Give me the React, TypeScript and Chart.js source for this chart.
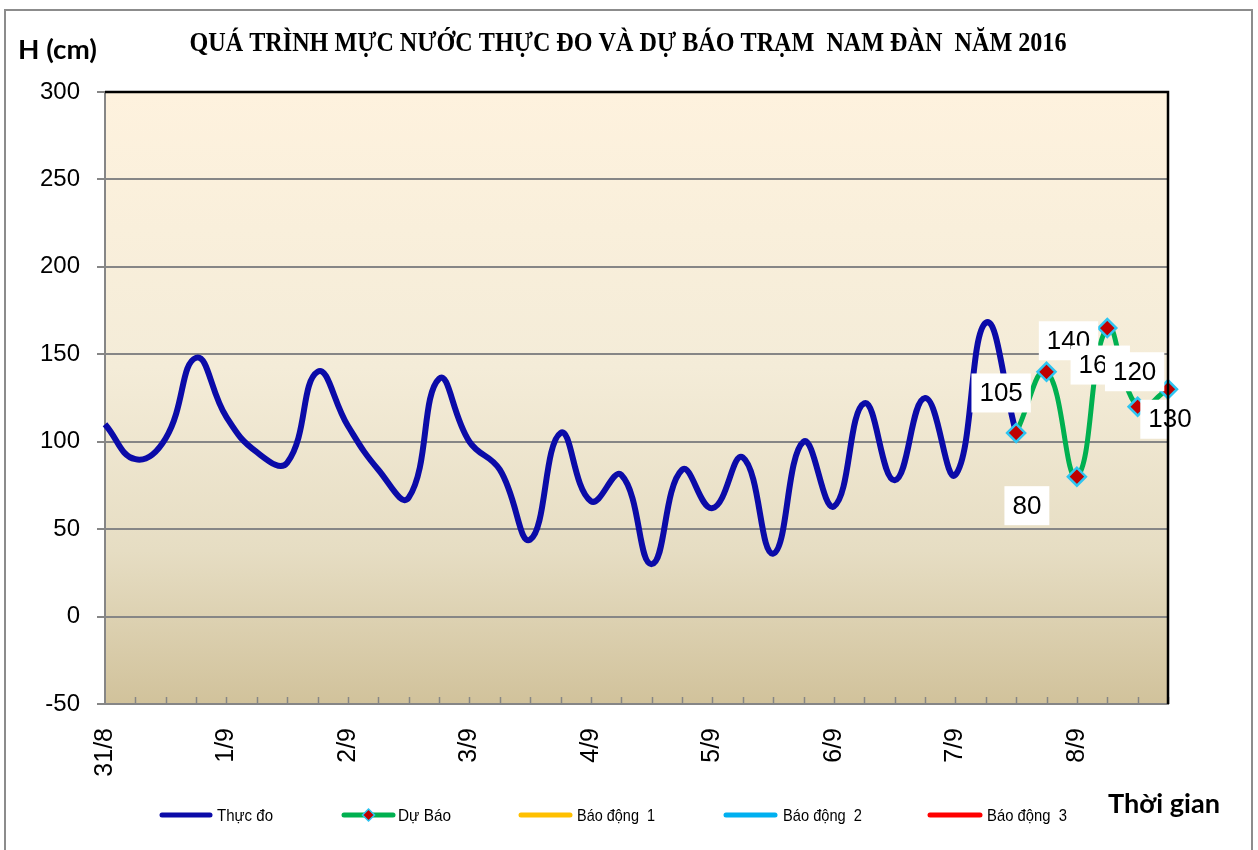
import React, { useEffect, useRef } from 'react';
import { Chart, registerables } from 'chart.js';

Chart.register(...registerables);

// ---------- data ----------
const dayLabels = ['31/8', '1/9', '2/9', '3/9', '4/9', '5/9', '6/9', '7/9', '8/9'];
const stepsPerDay = 4;
const pointCount = 36;
const categories: string[] = Array.from({ length: pointCount }, (_, i) =>
  i % stepsPerDay === 0 ? dayLabels[i / stepsPerDay] : ''
);

const observed: number[] = [
  110, 90, 102, 148, 114, 94, 88, 140, 109, 84, 68, 136, 100, 84, 44, 105,
  66, 81, 30, 84, 62, 91, 36, 100, 63, 122, 78, 125, 81, 168, 105,
];
const forecastStart = 30;
const forecast: number[] = [105, 140, 80, 165, 120, 130];
const alarm1: number[] = [];
const alarm2: number[] = [];
const alarm3: number[] = [];

const yTicks = { min: -50, max: 300, step: 50 };

const seriesNames = ['Thực đo', 'Dự Báo', 'Báo động  1', 'Báo động  2', 'Báo động  3'];
const titleText = 'QUÁ TRÌNH MỰC NƯỚC THỰC ĐO VÀ DỰ BÁO TRẠM  NAM ĐÀN  NĂM 2016';
const yTitle = 'H (cm)';
const xTitle = 'Thời gian';

// ---------- styles ----------
const colors = {
  observed: '#0B0BA8',
  forecast: '#00B050',
  alarm1: '#FFC000',
  alarm2: '#00B0F0',
  alarm3: '#FF0000',
  marker: '#C00000',
  markerBorder: '#2EC5F2',
  grid: '#868686',
};

// label box offsets (px) relative to each forecast point
const labelOffsets: [number, number][] = [
  [-15, -40],
  [22, -31],
  [-50, 29],
  [-7, 37],
  [-3, -35],
  [2, 30],
];

// legend item x positions (line start, line end, text start, text width)
const legendLayout: [number, number, number, number][] = [
  [160, 212, 217, 56],
  [342, 395, 398, 53],
  [519, 572, 577, 78],
  [724, 777, 783, 79],
  [928, 982, 987, 80],
];

function drawFit(
  ctx: CanvasRenderingContext2D,
  text: string,
  x: number,
  y: number,
  width: number,
  font: string,
  color: string,
  align: CanvasTextAlign = 'center'
) {
  ctx.save();
  ctx.font = font;
  const w = ctx.measureText(text).width;
  const s = width / w;
  ctx.translate(x, y);
  ctx.scale(s, 1);
  ctx.textAlign = align;
  ctx.textBaseline = 'middle';
  ctx.fillStyle = color;
  ctx.fillText(text, 0, 0);
  ctx.restore();
}

const decorPlugin = {
  id: 'decor',
  beforeDraw(chart: any) {
    const { ctx, chartArea: a } = chart;
    ctx.save();
    ctx.fillStyle = '#ffffff';
    ctx.fillRect(0, 0, chart.width, chart.height);
    const g = ctx.createLinearGradient(0, a.top, 0, a.bottom);
    g.addColorStop(0, '#FEF2DE');
    g.addColorStop(0.45, '#F4ECD8');
    g.addColorStop(0.75, '#E6DDC3');
    g.addColorStop(1, '#D1C29B');
    ctx.fillStyle = g;
    ctx.fillRect(a.left, a.top, a.right - a.left, a.bottom - a.top);
    ctx.restore();
  },
  afterDatasetsDraw(chart: any) {
    const { ctx } = chart;
    const meta = chart.getDatasetMeta(1);
    ctx.save();
    ctx.font = '26px "Liberation Sans", Arial, sans-serif';
    ctx.textAlign = 'center';
    ctx.textBaseline = 'middle';
    forecast.forEach((v, k) => {
      const el = meta.data[forecastStart + k];
      if (!el) return;
      const [dx, dy] = labelOffsets[k];
      const cx = el.x + dx;
      const cy = el.y + dy;
      const text = String(v);
      const tw = ctx.measureText(text).width;
      const bw = tw + 16;
      const bh = 39;
      ctx.fillStyle = '#ffffff';
      ctx.fillRect(cx - bw / 2, cy - bh / 2, bw, bh);
      ctx.fillStyle = '#000000';
      ctx.fillText(text, cx, cy + 1);
    });
    ctx.restore();
  },
  afterDraw(chart: any) {
    const { ctx, chartArea: a } = chart;
    const xs = chart.scales.x;
    ctx.save();
    // inner tick marks on x axis
    ctx.strokeStyle = colors.grid;
    ctx.lineWidth = 1.5;
    for (let i = 1; i < categories.length; i++) {
      const x = Math.round(xs.getPixelForValue(i)) + 0.5;
      ctx.beginPath();
      ctx.moveTo(x, a.bottom);
      ctx.lineTo(x, a.bottom - 7);
      ctx.stroke();
    }
    // top and right plot border
    ctx.strokeStyle = '#000000';
    ctx.lineWidth = 2.5;
    ctx.beginPath();
    ctx.moveTo(a.left, a.top);
    ctx.lineTo(a.right, a.top);
    ctx.lineTo(a.right, a.bottom);
    ctx.stroke();
    // outer chart border
    ctx.strokeStyle = '#8C8C8C';
    ctx.lineWidth = 2;
    ctx.strokeRect(5, 10, 1247, 845);
    ctx.restore();

    // titles
    drawFit(ctx, titleText, 628, 44, 877, 'bold 27px "Liberation Serif", "Times New Roman", serif', '#000');
    drawFit(ctx, yTitle, 18, 50, 79, 'bold 27px Lato, "Open Sans", sans-serif', '#000', 'left');
    drawFit(ctx, xTitle, 1108, 804, 112, 'bold 27px Lato, "Open Sans", sans-serif', '#000', 'left');

    // legend
    const ly = 815;
    chart.data.datasets.forEach((ds: any, i: number) => {
      const [x0, x1, tx, tw] = legendLayout[i];
      ctx.save();
      ctx.strokeStyle = ds.borderColor;
      ctx.lineWidth = 5;
      ctx.lineCap = 'round';
      ctx.beginPath();
      ctx.moveTo(x0 + 2, ly);
      ctx.lineTo(x1 - 2, ly);
      ctx.stroke();
      if (ds.pointStyle === 'rectRot') {
        const cx = (x0 + x1) / 2;
        const r = 6;
        ctx.beginPath();
        ctx.moveTo(cx, ly - r);
        ctx.lineTo(cx + r, ly);
        ctx.lineTo(cx, ly + r);
        ctx.lineTo(cx - r, ly);
        ctx.closePath();
        ctx.fillStyle = ds.pointBackgroundColor;
        ctx.fill();
        ctx.lineWidth = 1.5;
        ctx.lineCap = 'butt';
        ctx.strokeStyle = ds.pointBorderColor;
        ctx.stroke();
      }
      ctx.restore();
      drawFit(ctx, ds.label, tx, ly + 1, tw, '17px "Liberation Sans", Arial, sans-serif', '#000', 'left');
    });
  },
};

function pad(values: number[], start: number): (number | null)[] {
  return categories.map((_, i) => {
    const k = i - start;
    return k >= 0 && k < values.length ? values[k] : null;
  });
}

export default function App() {
  const canvasRef = useRef<HTMLCanvasElement | null>(null);

  useEffect(() => {
    if (!canvasRef.current) return;
    const chart = new Chart(canvasRef.current, {
      type: 'line',
      data: {
        labels: categories,
        datasets: [
          {
            label: seriesNames[0],
            data: pad(observed, 0),
            borderColor: colors.observed,
            backgroundColor: colors.observed,
            borderWidth: 6,
            pointRadius: 0,
            pointHoverRadius: 0,
            tension: 0.45,
            order: 1,
          },
          {
            label: seriesNames[1],
            data: pad(forecast, forecastStart),
            borderColor: colors.forecast,
            backgroundColor: colors.forecast,
            borderWidth: 5,
            pointStyle: 'rectRot',
            pointRadius: 9,
            pointBorderWidth: 2.5,
            pointBackgroundColor: colors.marker,
            pointBorderColor: colors.markerBorder,
            tension: 0.45,
            order: 0,
          },
          {
            label: seriesNames[2],
            data: alarm1,
            borderColor: colors.alarm1,
            backgroundColor: colors.alarm1,
            borderWidth: 5,
            pointRadius: 0,
            order: 2,
          },
          {
            label: seriesNames[3],
            data: alarm2,
            borderColor: colors.alarm2,
            backgroundColor: colors.alarm2,
            borderWidth: 5,
            pointRadius: 0,
            order: 3,
          },
          {
            label: seriesNames[4],
            data: alarm3,
            borderColor: colors.alarm3,
            backgroundColor: colors.alarm3,
            borderWidth: 5,
            pointRadius: 0,
            order: 4,
          },
        ],
      },
      options: {
        responsive: true,
        maintainAspectRatio: false,
        animation: false,
        layout: { padding: { left: 0, top: 92, right: 90, bottom: 0 } },
        plugins: {
          legend: { display: false },
          title: { display: false },
          tooltip: { enabled: false },
        },
        scales: {
          x: {
            type: 'category',
            offset: false,
            grid: { display: false },
            border: { display: true, color: colors.grid, width: 2 },
            ticks: {
              autoSkip: false,
              minRotation: 90,
              maxRotation: 90,
              padding: 16,
              color: '#000',
              font: { family: '"Liberation Sans", Arial, sans-serif', size: 25 },
            },
            afterFit: (scale: any) => {
              scale.height = 146;
            },
          },
          y: {
            min: yTicks.min,
            max: yTicks.max,
            grid: {
              color: colors.grid,
              lineWidth: 2,
              drawTicks: true,
              tickLength: 8,
              tickColor: colors.grid,
            },
            border: { display: true, color: colors.grid, width: 2 },
            ticks: {
              stepSize: yTicks.step,
              padding: 17,
              color: '#000',
              font: { family: '"Liberation Sans", Arial, sans-serif', size: 24 },
            },
            afterFit: (scale: any) => {
              scale.width = 105;
            },
          },
        },
      },
      plugins: [decorPlugin],
    } as any);
    return () => chart.destroy();
  }, []);

  return (
    <div style={{ position: 'absolute', left: 0, top: 0, width: 1258, height: 850, background: '#fff' }}>
      <canvas ref={canvasRef} />
    </div>
  );
}
